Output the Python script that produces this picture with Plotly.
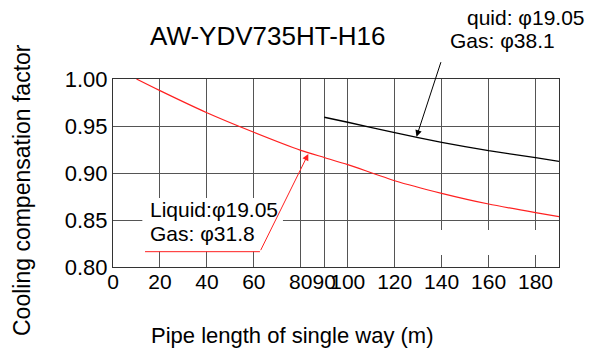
import plotly.graph_objects as go

# Data
red_x = [10, 20, 40, 60, 80, 90, 100, 120, 140, 160, 180, 190]
red_y = [1.000, 0.9876, 0.9641, 0.9433, 0.9241, 0.9165, 0.9089, 0.8918, 0.8784, 0.8670, 0.8578, 0.8535]
black_x = [90, 100, 120, 140, 160, 180, 190]
black_y = [0.9593, 0.9540, 0.9430, 0.9326, 0.9237, 0.9163, 0.9124]

x_ticks = [0, 20, 40, 60, 80, 90, 100, 120, 140, 160, 180]
y_ticks = [0.80, 0.85, 0.90, 0.95, 1.00]

title_text = "AW-YDV735HT-H16"
x_title = "Pipe length of single way (m)"
y_title = "Cooling compensation factor"
label_red = ["Liquid:φ19.05", "Gas: φ31.8"]
label_black = ["quid: φ19.05", "Gas: φ38.1"]

FONT = "Liberation Sans, Arial, sans-serif"
GRID = "#555555"

fig = go.Figure()
fig.add_trace(go.Scatter(x=red_x, y=red_y, mode="lines", line=dict(color="#ff2020", width=1.2, shape="spline", smoothing=0.6), showlegend=False))
fig.add_trace(go.Scatter(x=black_x, y=black_y, mode="lines", line=dict(color="#000000", width=1.3, shape="spline", smoothing=0.6), showlegend=False))

# white masks hiding parts of the grid (as in the reference)
fig.add_shape(type="rect", xref="x", yref="y", x0=12.5, x1=72.4, y0=0.8165, y1=0.8734,
              fillcolor="white", line=dict(width=0), layer="between")
fig.add_shape(type="rect", xref="x", yref="y", x0=130, x1=189.5, y0=0.8128, y1=0.8394,
              fillcolor="white", line=dict(width=0), layer="between")

ann = []
def seg(x0, y0, x1, y1, color, head):
    # line drawn from (x0,y0) to arrow tip (x1,y1)
    ann.append(dict(x=x1, y=y1, ax=x0, ay=y0, xref="x", yref="y", axref="x", ayref="y",
                    text="", showarrow=True, arrowhead=head, arrowsize=1.3, arrowwidth=1,
                    arrowcolor=color, standoff=0, startstandoff=0))

seg(13.0, 0.8163, 62.6, 0.8163, "#ff2020", 0)
seg(62.6, 0.8163, 83.2, 0.9203, "#ff2020", 2)
seg(139.9, 1.0195, 191.5, 1.0195, "#000000", 0)
seg(139.9, 1.0195, 129.3, 0.9386, "#000000", 2)

# page offset of 8px (body margin) is compensated in the margins below
def px(x):
    return (x - 113) / 446.0
def py(y):
    return (267 - y) / 188.0

ann.append(dict(text=title_text, x=px(268), y=py(36), xref="paper", yref="paper", xanchor="center", yanchor="middle",
                showarrow=False, font=dict(size=26, color="black", family=FONT)))
ann.append(dict(text=x_title, x=px(292), y=py(335), xref="paper", yref="paper", xanchor="center", yanchor="middle",
                showarrow=False, font=dict(size=22, color="black", family=FONT)))
ann.append(dict(text=y_title, x=px(22), y=py(190), xref="paper", yref="paper", xanchor="center", yanchor="middle",
                textangle=-90, showarrow=False, font=dict(size=23, color="black", family=FONT)))
ann.append(dict(text=label_red[0], x=px(148), y=py(209), xref="paper", yref="paper", xanchor="left", yanchor="middle",
                showarrow=False, font=dict(size=21, color="black", family=FONT)))
ann.append(dict(text=label_red[1], x=px(148), y=py(233), xref="paper", yref="paper", xanchor="left", yanchor="middle",
                showarrow=False, font=dict(size=21, color="black", family=FONT)))
ann.append(dict(text=label_black[0], x=px(465), y=py(18), xref="paper", yref="paper", xanchor="left", yanchor="middle",
                showarrow=False, font=dict(size=21, color="black", family=FONT)))
ann.append(dict(text=label_black[1], x=px(448), y=py(40), xref="paper", yref="paper", xanchor="left", yanchor="middle",
                showarrow=False, font=dict(size=21, color="black", family=FONT)))

fig.update_layout(
    width=587, height=348,
    margin=dict(l=105, r=36, t=71, b=89),
    paper_bgcolor="white", plot_bgcolor="white",
    font=dict(family=FONT, size=22, color="black"),
    annotations=ann,
    showlegend=False,
)
fig.update_xaxes(range=[0, 190], tickvals=x_ticks, ticktext=[str(v) for v in x_ticks], tickangle=0,
                 showgrid=True, gridcolor=GRID, gridwidth=1, zeroline=False,
                 showline=True, linecolor="#333", linewidth=1.2, mirror=True, ticks="",
                 ticklabelstandoff=-4,
                 tickfont=dict(size=21, family=FONT, color="black"))
fig.update_yaxes(range=[0.80, 1.00], tickvals=y_ticks, tickformat=".2f",
                 showgrid=True, gridcolor=GRID, gridwidth=1, zeroline=False,
                 showline=True, linecolor="#333", linewidth=1.2, mirror=True, ticks="",
                 tickfont=dict(size=22, family=FONT, color="black"))

fig.write_html("out.html")
